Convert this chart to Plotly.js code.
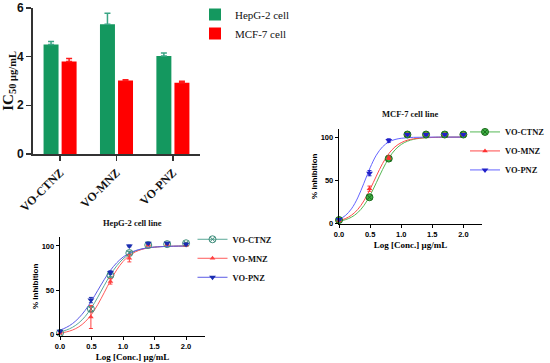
<!DOCTYPE html>
<html><head><meta charset="utf-8">
<script src="https://cdn.plot.ly/plotly-3.0.1.min.js"></script>
<style>
html,body{margin:0;padding:0;background:#fff}
#wrap{position:relative;width:550px;height:363px}
#curves,#bars{position:absolute;left:0;top:0;width:550px;height:363px}
</style>
</head><body><div id="wrap"><div id="curves"></div><div id="bars"></div></div><script>
// ---- Bar chart (IC50) ----
const categories = ['VO-CTNZ', 'VO-MNZ', 'VO-PNZ'];
const hepg2IC50 = [4.50, 5.33, 4.03];
const hepg2Err = [0.12, 0.45, 0.12];
const mcf7IC50 = [3.80, 3.02, 2.93];
const mcf7Err = [0.12, 0.03, 0.06];
const zeroErr = [0, 0, 0];

// ---- Dose-response data ----
const logConc = [0, 0.49, 0.8, 1.1, 1.4, 1.7, 2.0];
const mcfCTNZ = [3.5, 30, 75, 103, 103, 103, 103];
const mcfCTNZErr = [1, 2, 3, 1, 1, 1, 1];
const mcfMNZ = [3, 40, 76, 103, 103, 103, 103];
const mcfMNZErr = [1, 3, 2, 1, 1, 1, 1];
const mcfPNZ = [4, 58, 96, 103, 103, 103, 103];
const mcfPNZErr = [1, 3, 2, 1, 1, 1, 1];

const hepCTNZ = [2, 29, 67, 92, 101, 102, 103];
const hepCTNZErr = [1, 3, 3, 2, 1, 1, 1];
const hepMNZ = [2, 20, 60, 86, 101, 102, 101];
const hepMNZErr = [1, 13, 3, 4, 1, 1, 1];
const hepPNZ = [4, 39, 70, 100, 103, 103, 102];
const hepPNZErr = [1, 3, 2, 1, 1, 1, 1];

// ---- Fitted curves ----
const fitX = [0, 0.1, 0.2, 0.3, 0.4, 0.5, 0.6, 0.7, 0.8, 0.9, 1.0, 1.1, 1.2, 1.3, 1.4, 1.6, 1.8, 2.0];
const mcfCTNZFit = [2.1, 3.8, 6.8, 12.0, 20.3, 32.2, 46.9, 62.2, 75.4, 85.1, 91.4, 95.2, 97.4, 98.6, 99.2, 99.8, 99.9, 100];
const mcfMNZFit = [2.8, 5.1, 9.1, 15.7, 25.8, 39.3, 54.6, 69.2, 80.7, 88.6, 93.5, 96.4, 98.0, 98.9, 99.4, 99.8, 99.9, 100];
const mcfPNZFit = [4.3, 8.6, 16.5, 29.2, 46.3, 64.3, 79.0, 88.7, 94.3, 97.2, 98.6, 99.3, 99.7, 99.8, 99.9, 100, 100, 100];
const hepCTNZFit = [3.2, 5.2, 8.4, 13.4, 20.6, 30.4, 42.3, 55.2, 67.4, 77.6, 85.3, 90.7, 94.3, 96.5, 97.9, 99.2, 99.7, 99.9];
const hepMNZFit = [1.8, 3.1, 5.3, 8.9, 14.6, 22.9, 34.0, 47.2, 60.9, 73.0, 82.5, 89.1, 93.4, 96.1, 97.7, 99.2, 99.7, 99.9];
const hepPNZFit = [5.2, 8.2, 12.6, 19.0, 27.5, 38.1, 50.0, 61.9, 72.5, 81.0, 87.4, 91.8, 94.8, 96.7, 97.9, 99.2, 99.7, 99.9];

const seriesNames = ['VO-CTNZ', 'VO-MNZ', 'VO-PNZ'];

const SERIF = 'Liberation Serif, Times New Roman, serif';
const SANS = 'Liberation Sans, Arial, sans-serif';

// ================= Figure 1: dose-response panels =================
const curveTraces = [];
function addPanel(xa, ya, leg, fits, pts, errs, styles) {
  for (let i = 0; i < 3; i++) {
    const s = styles[i];
    curveTraces.push({
      type: 'scatter', mode: 'lines', x: fitX, y: fits[i], xaxis: xa, yaxis: ya,
      line: {color: s.line, width: 1, shape: 'spline'}, showlegend: false, hoverinfo: 'skip'
    });
  }
  for (let i = 0; i < 3; i++) {
    const s = styles[i];
    curveTraces.push({
      type: 'scatter', mode: 'markers', x: logConc, y: pts[i], xaxis: xa, yaxis: ya,
      marker: s.marker, cliponaxis: false, showlegend: false,
      error_y: {type: 'data', array: errs[i], color: s.err, thickness: 1, width: 2}
    });
  }
  for (let i = 0; i < 3; i++) {
    const s = styles[i];
    curveTraces.push({
      type: 'scatter', mode: 'lines+markers', x: [null], y: [null], xaxis: xa, yaxis: ya,
      name: seriesNames[i], legend: leg, line: {color: s.line, width: 1}, marker: s.marker
    });
  }
}

addPanel('x', 'y', 'legend',
  [mcfCTNZFit, mcfMNZFit, mcfPNZFit],
  [mcfCTNZ, mcfMNZ, mcfPNZ],
  [mcfCTNZErr, mcfMNZErr, mcfPNZErr],
  [
    {line: '#55b855', err: '#1f7a1f', marker: {symbol: 'circle-x', size: 7, color: '#3cb043', line: {color: '#1d6b1d', width: 1}}},
    {line: '#ff4a4a', err: '#ff3030', marker: {symbol: 'triangle-up', size: 5, color: '#ff3030', line: {width: 0}}},
    {line: '#6464ff', err: '#2020c8', marker: {symbol: 'triangle-down', size: 6, color: '#2020c8', line: {width: 0}}}
  ]);

addPanel('x2', 'y2', 'legend2',
  [hepCTNZFit, hepMNZFit, hepPNZFit],
  [hepCTNZ, hepMNZ, hepPNZ],
  [hepCTNZErr, hepMNZErr, hepPNZErr],
  [
    {line: '#5aa898', err: '#3d8c7a', marker: {symbol: 'circle-x-open', size: 7, color: '#3d8c7a', line: {width: 1}}},
    {line: '#ff5a5a', err: '#ff4040', marker: {symbol: 'triangle-up', size: 5, color: '#ff4040', line: {width: 0}}},
    {line: '#5a5ae6', err: '#1a2db0', marker: {symbol: 'triangle-down', size: 6, color: '#1a2db0', line: {width: 0}}}
  ]);

const curveX = (dom, anchor) => ({
  domain: dom, range: [0, 2.3], anchor: anchor, dtick: 0.5, tick0: 0, tickformat: '.1f',
  showline: true, linecolor: '#000', linewidth: 1.3, ticks: 'outside', ticklen: 3, tickwidth: 1, tickcolor: '#000',
  showgrid: false, zeroline: false, tickfont: {family: SANS, size: 7.5, weight: 'bold', color: '#000'},
  title: {text: 'Log [Conc.] μg/mL', font: {family: SERIF, size: 9, weight: 'bold', color: '#000'}, standoff: 3}
});
const curveY = (dom, anchor) => ({
  domain: dom, range: [-1, 110], anchor: anchor, tickvals: [0, 50, 100],
  showline: true, linecolor: '#000', linewidth: 1.3, ticks: 'outside', ticklen: 3, tickwidth: 1, tickcolor: '#000',
  showgrid: false, zeroline: false, tickfont: {family: SANS, size: 7.5, weight: 'bold', color: '#000'},
  title: {text: '% Inhibition', font: {family: SANS, size: 8, weight: 'bold', color: '#000'}, standoff: 2}
});

const curveLayout = {
  width: 550, height: 363, autosize: false,
  margin: {l: 0, r: 0, t: 0, b: 0, autoexpand: false},
  paper_bgcolor: '#fff', plot_bgcolor: 'rgba(0,0,0,0)',
  showlegend: true,
  xaxis: curveX([0.6164, 0.8764], 'y'),
  yaxis: curveY([0.3832, 0.646], 'x'),
  xaxis2: curveX([0.1091, 0.3727], 'y2'),
  yaxis2: curveY([0.0755, 0.347], 'x2'),
  legend: {x: 1.0, y: 0.6765, xanchor: 'right', yanchor: 'top', bgcolor: 'rgba(0,0,0,0)',
    font: {family: SERIF, size: 8.5, weight: 'bold', color: '#111'}, traceorder: 'normal'},
  legend2: {x: 0.35, y: 0.3808, xanchor: 'left', yanchor: 'top', bgcolor: 'rgba(0,0,0,0)',
    font: {family: SERIF, size: 8.5, weight: 'bold', color: '#111'}, traceorder: 'normal'},
  annotations: [
    {text: 'MCF-7 cell line', xref: 'paper', yref: 'paper', x: 0.745, y: 0.686, showarrow: false,
      xanchor: 'center', yanchor: 'middle', font: {family: SERIF, size: 8.5, weight: 'bold', color: '#111'}},
    {text: 'HepG-2 cell line', xref: 'paper', yref: 'paper', x: 0.24, y: 0.3857, showarrow: false,
      xanchor: 'center', yanchor: 'middle', font: {family: SERIF, size: 8.5, weight: 'bold', color: '#111'}}
  ]
};

// ================= Figure 2: IC50 bar chart (overlaid, transparent) =================
const barTraces = [
  {type: 'bar', name: 'HepG-2 cell', x: categories, y: hepg2IC50, marker: {color: '#14985f'},
    error_y: {type: 'data', array: hepg2Err, arrayminus: zeroErr, symmetric: false, color: '#3aa584', thickness: 1.5, width: 3}},
  {type: 'bar', name: 'MCF-7 cell', x: categories, y: mcf7IC50, marker: {color: '#ff0000'},
    error_y: {type: 'data', array: mcf7Err, arrayminus: zeroErr, symmetric: false, color: '#ff1a1a', thickness: 1.5, width: 3}}
];

const barLayout = {
  width: 550, height: 363, autosize: false,
  margin: {l: 0, r: 0, t: 0, b: 0},
  paper_bgcolor: 'rgba(0,0,0,0)', plot_bgcolor: 'rgba(0,0,0,0)',
  barmode: 'group', bargap: 0.36, bargroupgap: 0.17,
  xaxis: {
    domain: [0.06, 0.3636], range: [-0.48, 2.48], anchor: 'y',
    tickangle: -45, tickfont: {family: SERIF, size: 12, weight: 'bold', color: '#111'},
    showline: true, linecolor: '#333', linewidth: 2, ticks: 'outside', ticklen: 5, tickwidth: 1.5, tickcolor: '#333',
    showgrid: false
  },
  yaxis: {
    domain: [0.576, 0.978], range: [0, 6], anchor: 'x', dtick: 2,
    showline: true, linecolor: '#333', linewidth: 2, ticks: 'outside', ticklen: 5, tickwidth: 1.5, tickcolor: '#333',
    showgrid: false, zeroline: false, tickfont: {family: SANS, size: 12, weight: 'bold', color: '#111'},
    title: {text: 'IC<sub>50 μg/mL</sub>', font: {family: SERIF, size: 15, weight: 'bold', color: '#111'}, standoff: 4}
  },
  legend: {x: 0.3545, y: 1.0, xanchor: 'left', yanchor: 'top', bgcolor: 'rgba(0,0,0,0)',
    font: {family: SERIF, size: 11, color: '#111'}, traceorder: 'normal'}
};

Plotly.newPlot('curves', curveTraces, curveLayout, {displayModeBar: false, staticPlot: true});
Plotly.newPlot('bars', barTraces, barLayout, {displayModeBar: false, staticPlot: true});
</script></body></html>
